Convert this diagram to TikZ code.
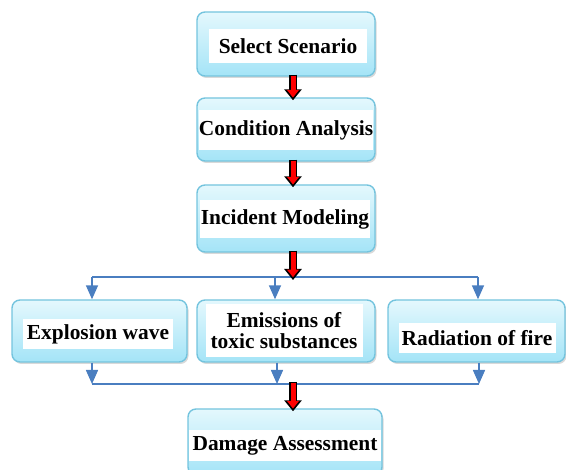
\documentclass[tikz,border=0pt]{standalone}
\usepackage{fontspec}
\setmainfont{Liberation Serif}
\usetikzlibrary{arrows.meta,shadows}

\definecolor{boxline}{HTML}{74C4DE}
\definecolor{boxtop}{HTML}{E4F8FD}
\definecolor{boxbottom}{HTML}{A4E4F7}
\definecolor{linkblue}{HTML}{4A7EC0}

\begin{document}
\begin{tikzpicture}[x=1pt, y=-1pt]
	\tikzset{box/.style={draw=boxline, line width=1.4pt, rounded corners=8pt,
			top color=boxtop, bottom color=boxbottom, inner sep=0pt,
			drop shadow={shadow xshift=1.5pt, shadow yshift=-2pt, opacity=0.3}},
		label band/.style={fill=white, inner sep=0pt, align=center,
			font=\bfseries\fontsize{21.4}{21}\selectfont},
		blue lines/.style={draw=linkblue, line width=1.6pt},
		blue arrow/.style={blue lines, -{Triangle[width=12pt, length=14pt]}},
		red outer/.style={black, line width=7.5pt, shorten <=-2pt, shorten >=-3pt,
			-{Triangle[width=17pt, length=11pt]}},
		red inner/.style={red, line width=5pt, shorten <=-0.8pt, shorten >=-0.2pt,
			-{Triangle[width=11.5pt, length=7.5pt]}}}
	\useasboundingbox (0, 0) rectangle (566, 470);

	% boxes
	\node[box, minimum width=178pt, minimum height=64pt] (sel) at (286, 44) {};
	\node[box, minimum width=178pt, minimum height=63pt] (cond) at (286, 129.5) {};
	\node[box, minimum width=178pt, minimum height=67pt] (inc) at (286, 218.5) {};
	\node[box, minimum width=175pt, minimum height=62pt] (expl) at (99.5, 331) {};
	\node[box, minimum width=178pt, minimum height=62pt] (emis) at (286, 331) {};
	\node[box, minimum width=177pt, minimum height=62pt] (rad) at (476.5, 331) {};
	\node[box, minimum width=194pt, minimum height=66pt] (dam) at (285, 442) {};

	% texts
	\node[label band, minimum width=158pt, minimum height=34pt] (selt) at (288, 46) {Select Scenario};
	\node[label band, minimum width=172pt, minimum height=40pt] (condt) at (286, 130) {Condition Analysis};
	\node[label band, minimum width=170pt, minimum height=38pt] (inct) at (285, 219) {Incident Modeling};
	\node[label band, minimum width=150pt, minimum height=30pt] (explt) at (98, 334) {Explosion wave};
	\node[label band, minimum width=157pt, minimum height=53pt] (emist) at (284, 331) {Emissions of\\toxic substances};
	\node[label band, minimum width=157pt, minimum height=30pt] (radt) at (477, 338) {Radiation of fire};
	\node[label band, minimum width=192pt, minimum height=31pt] (damt) at (285, 446) {Damage Assessment};

	% split and merge lines
	\coordinate (top1) at (92, 277);
	\coordinate (top2) at (275, 277);
	\coordinate (top3) at (478, 277);
	\coordinate (split) at (293, 277);
	\coordinate (bot1) at (92, 384);
	\coordinate (bot2) at (277, 384);
	\coordinate (bot3) at (479, 384);
	\coordinate (merge) at (293, 384);

	\draw[blue lines] (top1) -- (top3);
	\draw[blue arrow] (top1) -- (top1 |- expl.north);
	\draw[blue arrow] (top2) -- (top2 |- emis.north);
	\draw[blue arrow] (top3) -- (top3 |- rad.north);
	\draw[blue lines] (bot1) -- (bot3);
	\draw[blue arrow] (bot1 |- expl.south) -- (bot1);
	\draw[blue arrow] (bot2 |- emis.south) -- (bot2);
	\draw[blue arrow] (bot3 |- rad.south) -- (bot3);

	% red arrows
	\coordinate (selout) at ([xshift=7pt]sel.south);
	\coordinate (condin) at ([xshift=7pt]cond.north);
	\coordinate (condout) at ([xshift=7pt]cond.south);
	\coordinate (incin) at ([xshift=7pt]inc.north);
	\coordinate (incout) at ([xshift=7pt]inc.south);
	\coordinate (damin) at ([xshift=8pt]dam.north);
	\foreach \a/\b in {selout/condin, condout/incin, incout/split, merge/damin} {
		\draw[red outer] (\a) -- (\b);
		\draw[red inner] (\a) -- (\b);
	}
\end{tikzpicture}
\end{document}
